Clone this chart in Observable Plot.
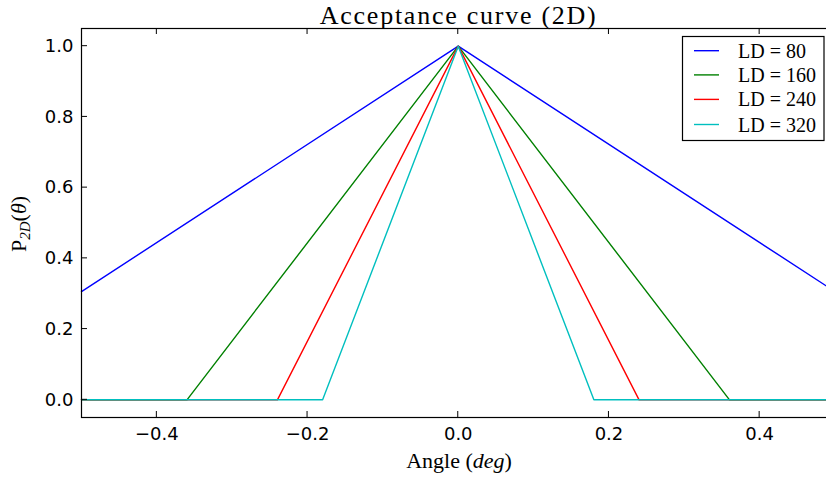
<!DOCTYPE html>
<html><head><meta charset="utf-8">
<script src="https://cdn.jsdelivr.net/npm/d3@7"></script>
<script src="https://cdn.jsdelivr.net/npm/@observablehq/plot@0.6"></script>
<style>
html,body{margin:0;padding:0;background:#fff;overflow:hidden}
#chart{position:relative;width:826px;height:477px}
</style></head><body><div id="chart"></div>
<script>
// ---- data ----
const seriesNames = ["LD = 80", "LD = 160", "LD = 240", "LD = 320"];
const seriesColors = ["#0000ff", "#008000", "#ff0000", "#00bfbf"];
const ld80Angle = [-0.5, 0, 0.5];
const ld80P = [0.306, 1.0, 0.306];
const ld160Angle = [-0.5, -0.36, 0, 0.36, 0.5];
const ld160P = [0, 0, 1.0, 0, 0];
const ld240Angle = [-0.5, -0.24, 0, 0.24, 0.5];
const ld240P = [0, 0, 1.0, 0, 0];
const ld320Angle = [-0.5, -0.18, 0, 0.18, 0.5];
const ld320P = [0, 0, 1.0, 0, 0];
const xTicks = [-0.4, -0.2, 0.0, 0.2, 0.4];
const yTicks = [0.0, 0.2, 0.4, 0.6, 0.8, 1.0];
const xDomain = [-0.5, 0.5];
const yDomain = [-0.05, 1.05];
const titleText = "Acceptance curve (2D)";

(function () {
const seriesAngles = [ld80Angle, ld160Angle, ld240Angle, ld320Angle];
const seriesP = [ld80P, ld160P, ld240P, ld320P];
const rows = [];
seriesNames.forEach((name, i) => {
  seriesAngles[i].forEach((a, j) => rows.push({name, angle: a, p: seriesP[i][j]}));
});

const fmt = d3.format(".1f");
const plot = Plot.plot({
  width: 826, height: 477,
  marginLeft: 81, marginRight: -8.5, marginTop: 28, marginBottom: 60,
  x: {domain: xDomain, label: null},
  y: {domain: yDomain, label: null},
  color: {domain: seriesNames, range: seriesColors},
  style: {fontFamily: "DejaVu Sans", fontSize: "18px", color: "#000", background: "#fff"},
  marks: [
    Plot.line(rows, {x: "angle", y: "p", z: "name", stroke: "name", strokeWidth: 1.4}),
    Plot.frame({stroke: "#000", strokeWidth: 1.2}),
    Plot.axisX({ticks: xTicks, tickSize: 0, tickPadding: 10, tickFormat: fmt, fontSize: 18, label: null}),
    Plot.axisY({ticks: yTicks, tickSize: 0, tickPadding: 8, tickFormat: fmt, fontSize: 18, label: null})
  ]
});
document.getElementById("chart").appendChild(plot);

const svg = d3.select(plot);
const sx = plot.scale("x"), sy = plot.scale("y");
const X = v => sx.apply(v), Y = v => sy.apply(v);
const pLeft = X(xDomain[0]), pRight = X(xDomain[1]);
const pTop = Y(yDomain[1]), pBottom = Y(yDomain[0]);
const tl = 6;
const g = svg.append("g").attr("stroke", "#000").attr("stroke-width", 1);
xTicks.forEach(v => {
  g.append("line").attr("x1", X(v)).attr("x2", X(v)).attr("y1", pBottom).attr("y2", pBottom - tl);
  g.append("line").attr("x1", X(v)).attr("x2", X(v)).attr("y1", pTop).attr("y2", pTop + tl);
});
yTicks.forEach(v => {
  g.append("line").attr("x1", pLeft).attr("x2", pLeft + tl).attr("y1", Y(v)).attr("y2", Y(v));
  g.append("line").attr("x1", pRight).attr("x2", pRight - tl).attr("y1", Y(v)).attr("y2", Y(v));
});

const serif = "'Liberation Serif', 'DejaVu Serif', serif";
svg.append("text").attr("x", (pLeft + pRight) / 2).attr("y", 23.5)
  .attr("text-anchor", "middle").attr("font-family", serif).attr("font-size", 26)
  .attr("textLength", 276).attr("lengthAdjust", "spacing")
  .attr("fill", "#000").text(titleText);

const xl = svg.append("text").attr("x", 459).attr("y", 467.5)
  .attr("text-anchor", "middle").attr("font-family", serif).attr("font-size", 22).attr("fill", "#000");
xl.append("tspan").text("Angle (");
xl.append("tspan").attr("font-style", "italic").text("deg");
xl.append("tspan").text(")");

const yl = svg.append("text").attr("transform", "translate(26,224) rotate(-90)")
  .attr("text-anchor", "middle").attr("font-family", serif).attr("font-size", 22).attr("fill", "#000");
yl.append("tspan").text("P");
yl.append("tspan").attr("font-style", "italic").attr("font-size", 15).attr("dy", 4).text("2D");
yl.append("tspan").attr("dy", -4).text("(");
yl.append("tspan").attr("font-style", "italic").text("θ");
yl.append("tspan").text(")");

// legend
const lg = svg.append("g");
lg.append("rect").attr("x", 682.5).attr("y", 36.5).attr("width", 141.5).attr("height", 104)
  .attr("fill", "#fff").attr("stroke", "#000").attr("stroke-width", 1.2);
const legendY = [50.7, 74.9, 99.4, 124.5];
seriesNames.forEach((name, i) => {
  lg.append("line").attr("x1", 694).attr("x2", 719).attr("y1", legendY[i]).attr("y2", legendY[i])
    .attr("stroke", seriesColors[i]).attr("stroke-width", 1.4);
  lg.append("text").attr("x", 738).attr("y", legendY[i] + 7).attr("text-anchor", "start")
    .attr("font-family", serif).attr("font-size", 20).attr("fill", "#000").text(name);
});
})();
</script></body></html>
